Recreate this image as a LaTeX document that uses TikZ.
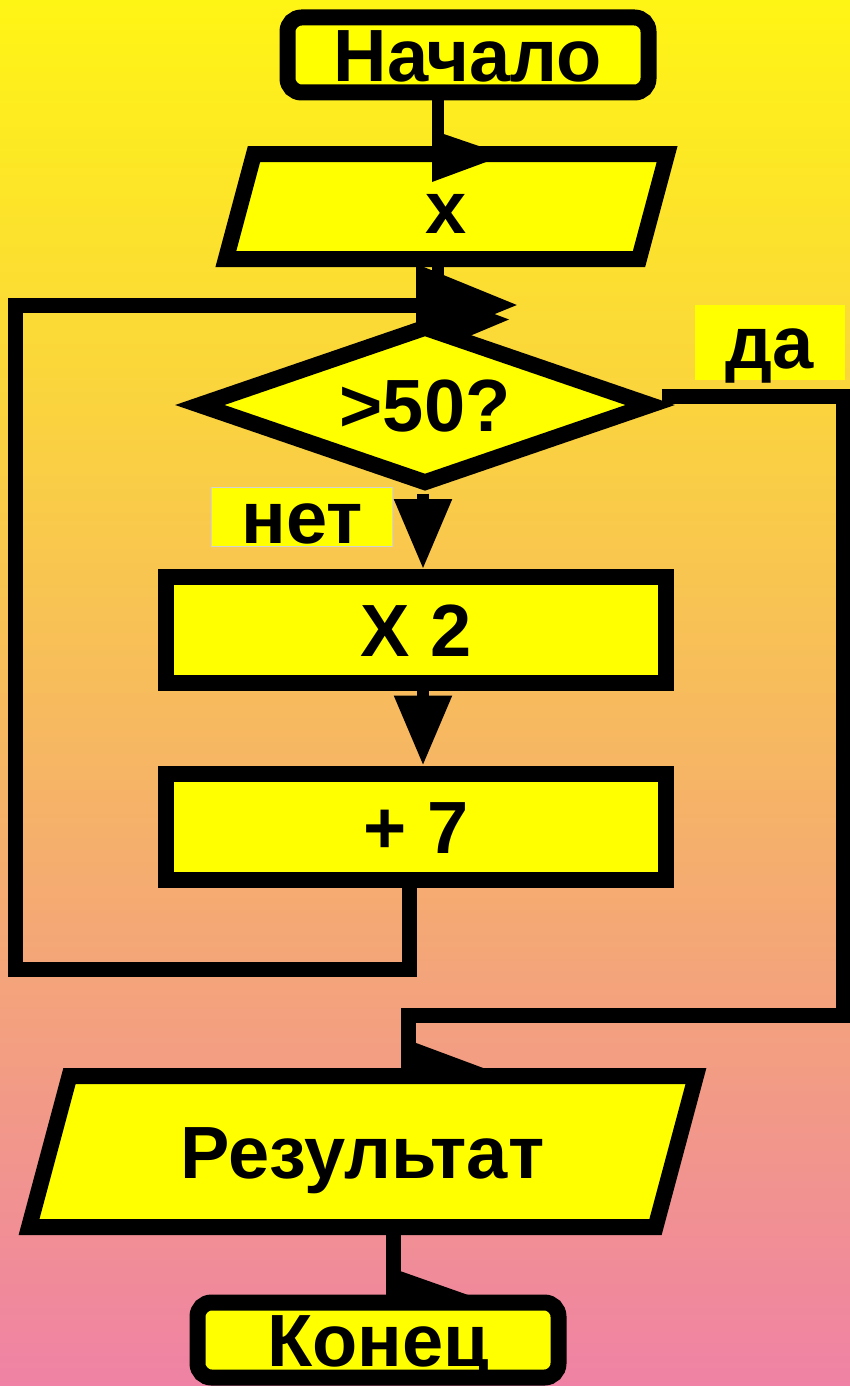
\documentclass[tikz,border=0pt]{standalone}
\usepackage{fontspec}
\setmainfont{Liberation Sans}
\usetikzlibrary{calc}
\usetikzlibrary{shapes,arrows.meta,positioning}
\definecolor{boxyellow}{RGB}{255,255,0}
\definecolor{bgtop}{RGB}{255,245,20}
\definecolor{bgmid}{RGB}{246,192,88}
\definecolor{bgbot}{RGB}{239,130,165}
\newcommand{\chartfont}{\fontsize{74}{80}\selectfont\bfseries}
\tikzstyle{chartbox} = [draw, line width=16pt, fill=boxyellow, font=\chartfont,
    text height=53pt, text depth=0pt, inner sep=0pt]
\tikzstyle{terminal} = [chartbox, rectangle, rounded corners=14pt,
    minimum width=361pt, minimum height=75pt]
\tikzstyle{io} = [chartbox, trapezium, trapezium left angle=75,
    trapezium right angle=105, align=center]
\tikzstyle{decision} = [chartbox, diamond, aspect=2.8, minimum width=457pt, minimum height=161pt]
\tikzstyle{block} = [chartbox, rectangle, minimum width=500pt, minimum height=106pt]
\tikzstyle{answer} = [fill=boxyellow, font=\chartfont, text height=53pt,
    text depth=0pt, inner sep=0pt]
\tikzstyle{line} = [draw, line width=12pt]
\tikzstyle{wide line} = [draw, line width=15pt]
\pgfdeclarelayer{shade}
\pgfdeclarelayer{behind}
\pgfsetlayers{shade,behind,main}

\begin{document}
\begin{tikzpicture}[x=1pt, y=-1pt, node distance = 150pt]
\useasboundingbox (0,0) rectangle (850,1386);
\begin{pgfonlayer}{shade}
\shade[top color=bgtop, middle color=bgmid, bottom color=bgbot] (0,0) rectangle (850,1386);
\end{pgfonlayer}
\node[terminal](start) at (468,55) {Начало};
\node[io, below of = start, node distance = 151.5pt, xshift=-21.5pt,
    text width=385pt, inner ysep=26pt](inp){x};
\node[decision, below of = inp, node distance = 198.5pt, xshift=-21.5pt](dia){>50?};
\node[block, below of = dia, node distance = 225pt, xshift=-9pt](dbl){X 2};
\node[block, below of = dbl, node distance = 196.5pt](add){+ 7};
\node[io, below of = add, node distance = 325pt, xshift=-53.5pt,
    text width=586pt, inner ysep=49pt](res){Результат};
\node[terminal, below of = res, node distance = 188.5pt, xshift=15.5pt](fin){Конец};
%Answers:
\node[answer, minimum width=150pt, minimum height=75pt](yes) at (770,342) {да};
\node[answer, draw=gray!35, line width=1.5pt, minimum width=181pt,
    minimum height=59pt](no) at (302,517) {нет};
%Turning points:
\coordinate (trunkA) at (438,0);
\coordinate (trunkB) at (423,0);
\coordinate (trunkC) at (408,0);
\coordinate (trunkD) at (393,0);
\coordinate (loopB) at (409,969);
\coordinate (loopT) at (15,305);
\coordinate (loopTip) at (518,305);
\coordinate (yesR) at (843,396);
\coordinate (yesB) at (843,1015);
\path[line] (start.south -| trunkA) -- (inp.north -| trunkA);
\fill ($(inp.north -| trunkA)+(-6,-16)$) -- ++(73,25) -- ++(-73,27) -- cycle;
\path[line,-{Triangle[length=70pt,width=55pt]}] (dia.south -| trunkB) -- (dbl.north -| trunkB);
\path[line,-{Triangle[length=70pt,width=55pt]}] (dbl.south -| trunkB) -- (add.north -| trunkB);
\begin{pgfonlayer}{behind}
\path[line] (inp.south -| trunkA) -- (dia.north -| trunkA);
\fill ($(dia.north -| trunkA)+(-22,-32)$) -- ++(93,35) -- ++(-93,39) -- cycle;
%Loop back:
\path[wide line,-{Triangle[length=102pt,width=78pt]}] (add.south -| loopB) -- (loopB) -| (loopT) -- (loopTip);
%Exit:
\path[wide line] (dia.east |- yesR) -| (yesB) -- (yesB -| trunkC) -- (res.north -| trunkC);
\fill ($(res.north -| trunkC)+(0,-28)$) -- ++(102,38) -- ++(-102,38) -- cycle;
\path[wide line] (res.south -| trunkD) -- (fin.north -| trunkD);
\fill ($(fin.north -| trunkD)+(0,-26)$) -- ++(102,36) -- ++(-102,36) -- cycle;
\end{pgfonlayer}
\end{tikzpicture}
\end{document}
